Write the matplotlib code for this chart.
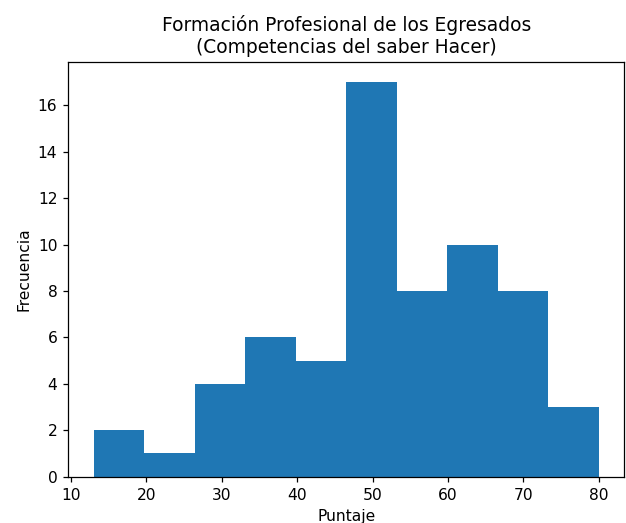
import matplotlib
matplotlib.use("Agg")
import matplotlib.pyplot as plt
import numpy as np

# Histogram: 10 bins from 13 to 80
bin_edges = np.linspace(13.0, 80.0, 11)
counts = [2, 1, 4, 6, 5, 17, 8, 10, 8, 3]

DPI = 111.5
fig = plt.figure(figsize=(626 / DPI, 523 / DPI), dpi=DPI)
ax = fig.add_axes([0.109, 0.0885, 0.888, 0.7925])
ax.hist(bin_edges[:-1], bins=bin_edges, weights=counts, color="#1f77b4")
ax.set_title("Formación Profesional de los Egresados\n(Competencias del saber Hacer)")
ax.set_xlabel("Puntaje")
ax.set_ylabel("Frecuencia")
fig.savefig("out.png", dpi=DPI)
